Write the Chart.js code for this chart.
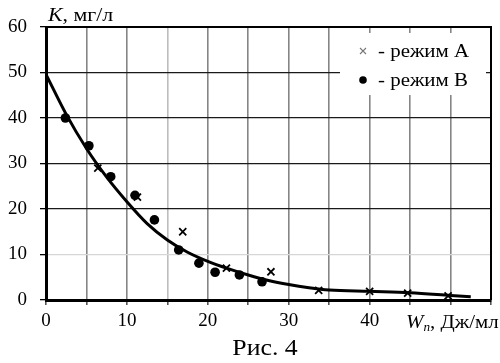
<!DOCTYPE html>
<html><head><meta charset="utf-8">
<script src="https://cdn.jsdelivr.net/npm/chart.js@4/dist/chart.umd.min.js"></script>
<style>html,body{margin:0;padding:0;background:#fff}#wrap{width:500px;height:363px;position:relative}</style>
</head><body><div id="wrap"><canvas id="c" width="500" height="363"></canvas></div>
<script>
// Data
const modeA_W = [6.4, 11.3, 16.9, 22.3, 27.8, 33.7, 40.0, 44.7, 49.7];
const modeA_K = [29.0, 22.6, 15.0, 7.0, 6.2, 2.1, 1.9, 1.5, 0.9];
const modeB_W = [2.4, 5.3, 8.0, 11.0, 13.4, 16.4, 18.9, 20.9, 23.9, 26.7];
const modeB_K = [40.0, 33.9, 27.1, 23.0, 17.6, 11.0, 8.1, 6.1, 5.5, 4.0];
const curve_W = [0, 2.5, 5, 7.5, 10, 12.5, 15, 17.5, 20, 22.5, 25, 27.5, 30, 32.5, 35, 40, 45, 50, 52.5];
const curve_K = [49.6, 40.8, 33.3, 27.0, 21.6, 16.8, 13.2, 10.5, 8.5, 6.9, 5.5, 4.3, 3.4, 2.7, 2.2, 1.9, 1.6, 1.0, 0.7];
const xTickLabels = [0, 10, 20, 30, 40];
const legendLabels = ['- режим А', '- режим В'];

const serif = '"Liberation Serif", "DejaVu Serif", serif';
const toPts = (xs, ys) => xs.map((x, i) => ({x: x, y: ys[i]}));

// draw text stretched horizontally (reference glyphs are wider than Liberation Serif)
function sText(ctx, txt, x, y, sx) {
  ctx.save();
  ctx.translate(x, y);
  ctx.scale(sx, 1);
  ctx.fillText(txt, 0, 0);
  ctx.restore();
  return ctx.measureText(txt).width * sx;
}

const overlay = {
  id: 'overlay',
  beforeDatasetsDraw(chart) {
    const {ctx} = chart;
    ctx.save();
    ctx.fillStyle = '#fff';
    ctx.fillRect(340, 33, 146, 62);
    ctx.restore();
  },
  afterDraw(chart) {
    const {ctx, chartArea: a} = chart;
    ctx.save();
    ctx.strokeStyle = '#000';
    ctx.lineWidth = 2;
    ctx.beginPath();
    ctx.moveTo(a.left, a.top); ctx.lineTo(a.right, a.top); ctx.lineTo(a.right, a.bottom);
    ctx.stroke();
    // legend
    ctx.fillStyle = '#000';
    ctx.textBaseline = 'alphabetic';
    ctx.textAlign = 'left';
    ctx.font = '19px ' + serif;
    sText(ctx, legendLabels[0], 378, 57, 1.1);
    sText(ctx, legendLabels[1], 378, 86, 1.1);
    ctx.strokeStyle = '#777';
    ctx.lineWidth = 1.1;
    ctx.beginPath();
    ctx.moveTo(360, 48); ctx.lineTo(366, 54);
    ctx.moveTo(366, 48); ctx.lineTo(360, 54);
    ctx.stroke();
    ctx.beginPath(); ctx.arc(363, 80, 3.8, 0, Math.PI * 2); ctx.fill();
    // y title
    ctx.font = 'italic 19px ' + serif;
    let x = 48;
    x += sText(ctx, 'K', x, 21, 1.15);
    ctx.font = '19px ' + serif;
    sText(ctx, ', мг/л', x, 21, 1.15);
    // x title
    ctx.fillStyle = '#fff';
    ctx.fillRect(396, 308, 104, 24);
    ctx.fillStyle = '#000';
    ctx.font = 'italic 19px ' + serif;
    x = 406;
    x += sText(ctx, 'W', x, 328, 1.1);
    ctx.font = 'italic 12px ' + serif;
    x += sText(ctx, 'п', x, 331, 1.1);
    ctx.font = '19px ' + serif;
    sText(ctx, ', Дж/мл', x, 328, 1.1);
    // caption
    ctx.font = '23px ' + serif;
    ctx.textAlign = 'center';
    sText(ctx, 'Рис. 4', 265, 355, 1.12);
    ctx.restore();
  }
};

new Chart(document.getElementById('c'), {
  type: 'scatter',
  data: {
    datasets: [
      {
        type: 'line', data: toPts(curve_W, curve_K), borderColor: '#000', borderWidth: 3,
        pointRadius: 0, tension: 0.4, cubicInterpolationMode: 'monotone', fill: false, order: 3
      },
      {
        data: toPts(modeB_W, modeB_K), pointStyle: 'circle', pointRadius: 4.8,
        backgroundColor: '#000', borderColor: '#000', borderWidth: 0, order: 2
      },
      {
        data: toPts(modeA_W, modeA_K), pointStyle: 'crossRot', pointRadius: 5,
        borderColor: '#000', borderWidth: 1.8, order: 1
      }
    ]
  },
  options: {
    responsive: false, animation: false, devicePixelRatio: 1,
    layout: {padding: {top: 27, right: 9, left: 0, bottom: 0}},
    plugins: {legend: {display: false}, tooltip: {enabled: false}, title: {display: false}},
    scales: {
      x: {
        type: 'linear', min: 0, max: 55,
        border: {color: '#000', width: 3},
        grid: {
          color: (c) => (c.tick && c.tick.value === 15) ? '#bdbdbd' : '#858585',
          lineWidth: 1.6, tickLength: 5, tickColor: '#555'
        },
        ticks: {
          stepSize: 5, autoSkip: false, maxRotation: 0, padding: 5,
          color: '#000', font: {family: serif, size: 19},
          callback: (v) => xTickLabels.includes(v) ? String(v) : ''
        },
        afterFit: (s) => { s.height = 63; }
      },
      y: {
        min: 0, max: 60,
        border: {color: '#000', width: 3},
        grid: {
          color: (c) => (c.tick && c.tick.value === 10) ? '#d6d6d6' : '#1a1a1a',
          lineWidth: 1.3, tickLength: 6, tickColor: '#000'
        },
        ticks: {stepSize: 10, padding: 13, color: '#000', font: {family: serif, size: 19}},
        afterFit: (s) => { s.width = 46; }
      }
    }
  },
  plugins: [overlay]
});
</script></body></html>
